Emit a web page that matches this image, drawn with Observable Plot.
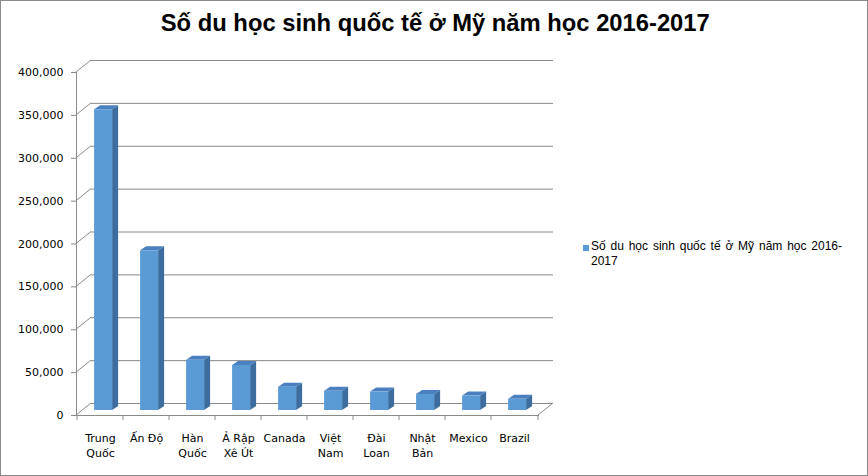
<!DOCTYPE html>
<html>
<head>
<meta charset="utf-8">
<script src="https://cdn.jsdelivr.net/npm/d3@7"></script>
<script src="https://cdn.jsdelivr.net/npm/@observablehq/plot@0.6"></script>
<style>
  html, body { margin: 0; padding: 0; background: #fff; }
  #wrap { position: relative; width: 868px; height: 476px; box-sizing: border-box; border: 1px solid #8a8a8a; overflow: hidden; }
  #title { position: absolute; left: 0; width: 868px; top: 8px; text-align: center; font-family: "Liberation Sans", Arial, sans-serif; font-weight: bold; font-size: 24px; color: #000; white-space: nowrap; }
  #title span { display: inline-block; transform: scaleX(0.99); transform-origin: center; }
  #chart { position: absolute; left: 0; top: 50px; }
  #legend { position: absolute; left: 580px; top: 238px; font-family: "Liberation Sans", Arial, sans-serif; font-size: 12px; line-height: 15px; color: #000; width: 285px; }
  #legend .sw { position: absolute; left: 2px; top: 6px; width: 6px; height: 6px; background: #5b9bd5; }
  #legend .tx { margin-left: 10px; white-space: nowrap; word-spacing: 1.5px; }
</style>
</head>
<body>
<div id="wrap">
  <div id="title"><span>Số du học sinh quốc tế ở Mỹ năm học 2016-2017</span></div>
  <div id="chart"></div>
  <div id="legend"><div class="sw"></div><div class="tx">Số du học sinh quốc tế ở Mỹ năm học 2016-<br>2017</div></div>
</div>
<script>
const countries = ["Trung Quốc", "Ấn Độ", "Hàn Quốc", "Ả Rập Xê Út", "Canada", "Việt Nam", "Đài Loan", "Nhật Bản", "Mexico", "Brazil"];
const tickLabels = ["Trung\nQuốc", "Ấn Độ", "Hàn\nQuốc", "Ả Rập\nXê Út", "Canada", "Việt\nNam", "Đài\nLoan", "Nhật\nBản", "Mexico", "Brazil"];
const students = [350755, 186267, 58663, 52611, 27065, 22438, 21516, 18780, 16835, 13089];
const yTicks = [0, 50000, 100000, 150000, 200000, 250000, 300000, 350000, 400000];

const data = countries.map((c, i) => ({country: c, value: students[i]}));
const labelOf = new Map(countries.map((c, i) => [c, tickLabels[i]]));

const DX = 15, DY = -12;          // wall depth
const BD = 6, BDY = -4;           // bar depth
const BOFF = -5;                  // bar mid-depth vertical shift
const GRID = "#8a8a8a";

function wallRender(index, scales, values, dims) {
  const g = d3.create("svg:g").attr("stroke", GRID).attr("fill", "none").attr("stroke-width", 1);
  const x0 = dims.marginLeft, x1 = dims.width - dims.marginRight;
  for (const i of index) {
    const yy = values.y[i];
    g.append("line").attr("x1", x0).attr("y1", yy).attr("x2", x0 + DX).attr("y2", yy + DY);
  }
  const y0 = scales.y(0);
  g.append("line").attr("x1", x1).attr("y1", y0).attr("x2", x1 + DX).attr("y2", y0 + DY);
  const bounds = countries.map(c => scales.x(c)).concat([x1]);
  for (const bx of bounds) {
    g.append("line").attr("x1", bx).attr("y1", y0).attr("x2", bx).attr("y2", y0 + 5);
  }
  return g.node();
}

function barRender(index, scales, values, dims) {
  const g = d3.create("svg:g");
  const x0 = dims.marginLeft, x1 = dims.width - dims.marginRight;
  const step = (x1 - x0) / countries.length;
  for (const i of index) {
    const bx = values.x[i];
    const l = bx + 0.37 * step, r = bx + 0.76 * step;
    const t = values.y2[i] + BOFF, b = values.y1[i] + BOFF;
    g.append("path").attr("fill", "#3d6d9f")
      .attr("d", `M${r},${t}L${r + BD},${t + BDY}L${r + BD},${b + BDY}L${r},${b}Z`);
    g.append("path").attr("fill", "#4a80bf")
      .attr("d", `M${l},${t}L${l + BD},${t + BDY}L${r + BD},${t + BDY}L${r},${t}Z`);
    g.append("rect").attr("fill", "#5b9bd5")
      .attr("x", l).attr("y", t).attr("width", r - l).attr("height", b - t);
  }
  return g.node();
}

const chart = Plot.plot({
  width: 570,
  height: 420,
  marginLeft: 75,
  marginRight: 33,
  marginTop: 21,
  marginBottom: 56,
  style: {fontFamily: "'DejaVu Sans', sans-serif", fontSize: "11px", color: "#000", background: "transparent"},
  x: {type: "band", domain: countries, padding: 0},
  y: {domain: [0, 400000]},
  marks: [
    Plot.ruleY(yTicks, {y: d => d, dx: DX, dy: DY, stroke: GRID}),
    Plot.ruleY(yTicks, {y: d => d, render: wallRender}),
    Plot.frame({anchor: "left", stroke: GRID}),
    Plot.frame({anchor: "bottom", stroke: GRID}),
    Plot.barY(data, {x: "country", y: "value", render: barRender}),
    Plot.axisY({ticks: yTicks, tickSize: 5, tickPadding: 8, tickFormat: d3.format(","), label: null, stroke: GRID, fill: "#000"}),
    Plot.axisX({tickSize: 0, tickPadding: 16, tickFormat: d => labelOf.get(d), label: null, lineHeight: 1.35, fill: "#000"})
  ]
});
document.getElementById("chart").appendChild(chart);
</script>
</body>
</html>
